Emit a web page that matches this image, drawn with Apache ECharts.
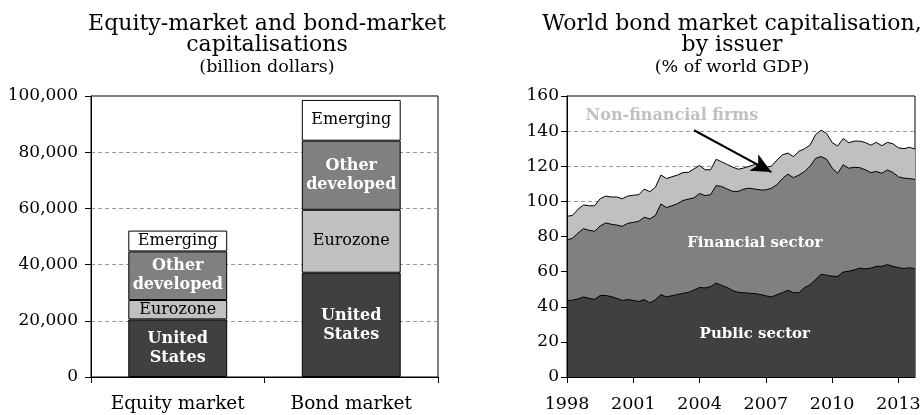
<!DOCTYPE html>
<html>
<head>
<meta charset="utf-8">
<title>Equity and bond markets</title>
<script src="https://cdn.jsdelivr.net/npm/echarts@6/dist/echarts.min.js"></script>
<style>
  html, body { margin: 0; padding: 0; background: #fff; }
  #main { width: 924px; height: 415px; }
</style>
</head>
<body>
<div id="main"></div>
<script>
// left panel: stacked bars (billion dollars)
const barCategories = ['Equity market', 'Bond market'];
const unitedStates = [20500, 37100];
const eurozone = [6900, 22400];
const otherDeveloped = [17300, 24600];
const emerging = [7400, 14500];

// right panel: quarterly levels, % of world GDP
const yearsShown = [1998, 1999, 2000, 2001, 2002, 2003, 2004, 2005, 2006, 2007, 2008, 2009, 2010, 2011, 2012, 2013];
const publicSector = [43.6, 43.7, 44.5, 45.6, 44.8, 44.2, 46.4, 46.4, 45.8, 44.8,
  43.6, 44.1, 43.6, 43.0, 44.1, 42.2, 44.0, 46.9, 45.6, 46.3,
  47.0, 47.6, 48.2, 49.5, 51.0, 50.7, 51.5, 53.5, 52.1, 51.0,
  49.2, 48.2, 48.0, 47.7, 47.5, 47.0, 46.2, 45.6, 46.8, 48.0,
  49.4, 48.0, 48.0, 50.9, 52.5, 55.5, 58.5, 58.0, 57.4, 57.3,
  59.8, 60.2, 61.0, 62.0, 61.6, 62.0, 63.0, 63.0, 64.0, 63.0,
  62.3, 61.8, 62.2, 61.7];
// public + financial sector
const financialLevel = [78, 79, 82, 84.5, 83.5, 83, 86, 87.7, 87, 86.5,
  85.8, 87.5, 88, 88.7, 91, 90, 92, 98.5, 96.5, 97.5,
  98.7, 100.5, 101.3, 102, 104.5, 103.3, 103.8, 109, 108.5, 107,
  105.7, 105.7, 107, 107.5, 107, 106.5, 106.5, 107.5, 109.5, 113,
  115.5, 113.5, 115, 117, 120, 124.5, 125.5, 124, 119, 116,
  120.8, 118.9, 119.4, 119.2, 118, 116.4, 117, 116, 117.9, 116.5,
  114, 113.2, 113, 112.5];
// all issuers (incl. non-financial firms)
const totalLevel = [91.5, 92, 95.5, 98, 97.5, 97.5, 101.5, 103, 102.5, 102.5,
  101.5, 103, 103.5, 103.8, 107, 105.5, 108, 115, 113, 114,
  115, 116.4, 116.6, 118.5, 120.5, 118, 118, 124, 122.5, 121,
  119.5, 118.3, 119, 120, 121, 120, 119.5, 120, 123.5, 126.5,
  127.5, 125.5, 128.5, 130, 132, 138, 140.5, 138.7, 133.5, 131.5,
  135.8, 133.4, 134.3, 134.3, 133.5, 132, 133.6, 131.7, 133.6, 132.8,
  130.5, 130, 130.8, 129.8];

const quarters = [];
yearsShown.forEach(y => { for (let q = 1; q <= 4; q++) quarters.push(y + 'Q' + q); });

const FONT = 'DejaVu Serif';
const DARK = '#404040', MID = '#808080', LIGHT = '#c0c0c0';

const chart = echarts.init(document.getElementById('main'));

function barSeries(name, data, color, labelText, labelColor, bold) {
  return {
    name: name,
    type: 'bar',
    stack: 'total',
    xAxisIndex: 0,
    yAxisIndex: 0,
    barWidth: '57%',
    data: data,
    itemStyle: { color: color, borderColor: '#000', borderWidth: 1 },
    label: {
      show: true,
      position: 'inside',
      formatter: labelText,
      color: labelColor,
      fontFamily: FONT,
      fontSize: 16,
      lineHeight: 19,
      fontWeight: bold ? 'bold' : 'normal'
    },
    emphasis: { disabled: true }
  };
}

function areaSeries(name, data, color, extra) {
  return Object.assign({
    name: name,
    type: 'line',
    xAxisIndex: 1,
    yAxisIndex: 1,
    data: data,
    showSymbol: false,
    symbol: 'none',
    lineStyle: { color: '#000', width: 1 },
    areaStyle: { color: color, opacity: 1 },
    emphasis: { disabled: true }
  }, extra || {});
}

const blackLine = { lineStyle: { color: '#000', width: 1 } };
const tick = { show: true, length: 6, lineStyle: { color: '#000' } };
const labelFont = { fontFamily: FONT, fontSize: 17, color: '#000' };
const dashed = { show: true, showMinLine: false, showMaxLine: false, lineStyle: { color: '#999', type: [4, 3], width: 1 } };

// the dashed grid lines live on extra axes kept under the series,
// the visible axes (line, ticks, labels) are drawn above them
function gridLinesOnly(gridIndex, max, interval) {
  return {
    type: 'value', gridIndex: gridIndex, min: 0, max: max, interval: interval, z: 0,
    axisLine: { show: false }, axisTick: { show: false }, axisLabel: { show: false },
    splitLine: dashed
  };
}

const titleStyle = { fontFamily: FONT, fontSize: 22, fontWeight: 'normal', color: '#000', lineHeight: 21 };
const subStyle = { fontFamily: FONT, fontSize: 17.5, color: '#000', lineHeight: 21 };

const option = {
  animation: false,
  textStyle: { fontFamily: FONT },
  title: [
    {
      text: 'Equity-market and bond-market\ncapitalisations',
      subtext: '(billion dollars)',
      left: 262, top: 9, textAlign: 'center', itemGap: 0,
      textStyle: titleStyle, subtextStyle: subStyle
    },
    {
      text: 'World bond market capitalisation,\nby issuer',
      subtext: '(% of world GDP)',
      left: 727, top: 9, textAlign: 'center', itemGap: 0,
      textStyle: titleStyle, subtextStyle: subStyle
    }
  ],
  grid: [
    { left: 91, top: 96, width: 347, height: 281, show: true, borderColor: '#000', borderWidth: 1 },
    { left: 567, top: 96, width: 348, height: 281, show: true, borderColor: '#000', borderWidth: 1 }
  ],
  xAxis: [
    {
      type: 'category', gridIndex: 0, data: barCategories, z: 5,
      axisLine: blackLine, axisTick: tick,
      axisLabel: Object.assign({ margin: 18, interval: 0 }, labelFont, { fontSize: 18.5 })
    },
    {
      type: 'category', gridIndex: 1, data: quarters, boundaryGap: false, z: 5,
      axisLine: blackLine,
      axisTick: Object.assign({ interval: 11 }, tick),
      axisLabel: Object.assign({ margin: 18, interval: 11, formatter: v => v.slice(0, 4) }, labelFont, { fontSize: 17.5 }),
      splitLine: { show: false }
    }
  ],
  yAxis: [
    {
      type: 'value', gridIndex: 0, min: 0, max: 100000, interval: 20000, z: 5,
      axisLine: Object.assign({ show: true }, blackLine), axisTick: tick,
      axisLabel: Object.assign({ margin: 13, formatter: v => v.toLocaleString('en-US') }, labelFont),
      splitLine: { show: false }
    },
    {
      type: 'value', gridIndex: 1, min: 0, max: 160, interval: 20, z: 5,
      axisLine: Object.assign({ show: true }, blackLine), axisTick: tick,
      axisLabel: Object.assign({ margin: 8 }, labelFont),
      splitLine: { show: false }
    },
    gridLinesOnly(0, 100000, 20000),
    gridLinesOnly(1, 160, 20)
  ],
  series: [
    barSeries('United States', unitedStates, DARK, 'United\nStates', '#fff', true),
    barSeries('Eurozone', eurozone, LIGHT, 'Eurozone', '#000', false),
    barSeries('Other developed', otherDeveloped, MID, 'Other\ndeveloped', '#fff', true),
    barSeries('Emerging', emerging, '#fff', 'Emerging', '#000', false),
    areaSeries('Non-financial firms', totalLevel, LIGHT),
    areaSeries('Financial sector', financialLevel, MID),
    areaSeries('Public sector', publicSector, DARK, {
      markPoint: {
        symbol: 'circle',
        symbolSize: 0,
        silent: true,
        label: { show: true, position: 'inside', fontFamily: FONT, fontSize: 15, fontWeight: 'bold' },
        data: [
          { coord: [19, 148.5], label: { formatter: 'Non-financial firms', color: LIGHT, fontSize: 16 } },
          { coord: [34, 76.3], label: { formatter: 'Financial sector', color: '#fff' } },
          { coord: [34, 24.3], label: { formatter: 'Public sector', color: '#fff' } }
        ]
      },
      markLine: {
        silent: true,
        symbol: ['none', 'arrow'],
        symbolSize: [14, 20],
        lineStyle: { color: '#000', width: 2, type: 'solid' },
        label: { show: false },
        data: [[{ coord: [23, 140.5] }, { coord: [37, 116.7] }]]
      }
    })
  ]
};

chart.setOption(option);
</script>
</body>
</html>
